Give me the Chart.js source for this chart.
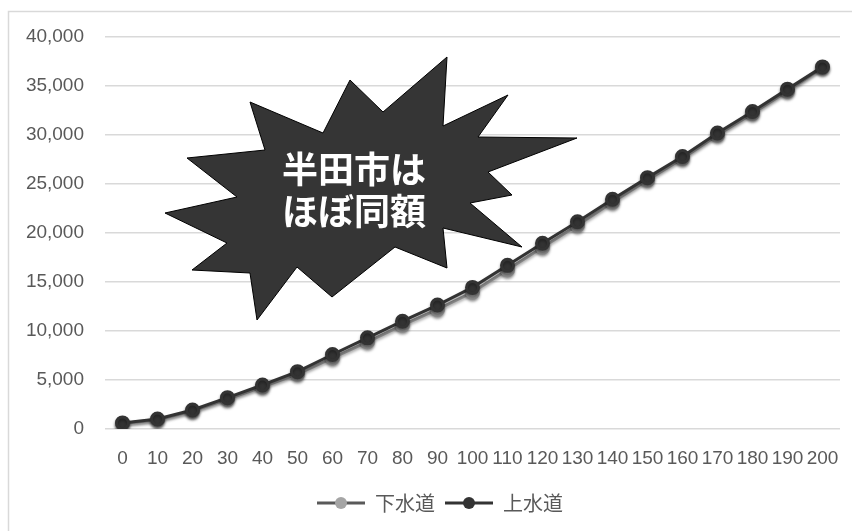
<!DOCTYPE html>
<html>
<head>
<meta charset="utf-8">
<script src="https://cdn.jsdelivr.net/npm/chart.js@4"></script>
<style>
    html, body { margin: 0; padding: 0; background: #fff; }
    #wrap { width: 852px; height: 531px; position: relative; }
</style>
</head>
<body>
<div id="wrap"><canvas id="mycanvas" width="852" height="531"></canvas></div>
<script>
// x categories
var categories = ["0", "10", "20", "30", "40", "50", "60", "70", "80", "90", "100",
    "110", "120", "130", "140", "150", "160", "170", "180", "190", "200"];

// sewer / water supply values
var gesuidou = [560, 950, 1850, 3050, 4300, 5600, 7250, 8900, 10600, 12200, 13950,
    16250, 18550, 20800, 23150, 25400, 27600, 30000, 32200, 34500, 36900];
var jousuidou = [620, 1020, 1940, 3200, 4490, 5850, 7600, 9300, 11000, 12650, 14450,
    16700, 18950, 21150, 23450, 25650, 27800, 30200, 32400, 34680, 36950];

var seriesNames = ["下水道", "上水道"];
var yTicks = [0, 5000, 10000, 15000, 20000, 25000, 30000, 35000, 40000];

var calloutLines = ["半田市は", "ほぼ同額"];
// burst outline, offsets from its centre
var burstCenter = [355, 190];
var burstShape = [
    [92, -133], [88, -64], [153, -95], [123, -53], [222, -52], [133, -18], [157, 5],
    [115, 13], [167, 57], [88, 38], [92, 78], [40, 57], [-23, 107], [-58, 77],
    [-98, 130], [-105, 83], [-163, 80], [-128, 53], [-190, 23], [-118, 7],
    [-168, -32], [-90, -40], [-105, -88], [-32, -57], [-5, -110], [28, -78]
];

var allCharts = [];

// legend icon: short line with a round marker
function LegendIcon(lineColor, dotColor)
{
    var c = document.createElement("canvas");
    c.width = 48;
    c.height = 14;
    var g = c.getContext("2d");
    g.strokeStyle = lineColor;
    g.lineWidth = 3;
    g.beginPath();
    g.moveTo(0, 7);
    g.lineTo(48, 7);
    g.stroke();
    g.fillStyle = dotColor;
    g.beginPath();
    g.arc(24, 7, 6, 0, Math.PI * 2);
    g.fill();
    return c;
}

var framePlugin = {
    id: "frame",
    beforeDraw: function (chart)
    {
        var ctx = chart.ctx;
        ctx.save();
        ctx.fillStyle = "#ffffff";
        ctx.fillRect(0, 0, chart.width, chart.height);
        ctx.strokeStyle = "#d9d9d9";
        ctx.lineWidth = 1.5;
        ctx.beginPath();
        ctx.moveTo(8.5, chart.height);
        ctx.lineTo(8.5, 11.5);
        ctx.lineTo(chart.width, 11.5);
        ctx.stroke();
        ctx.restore();
    },
    // centre the legend on the outer frame rather than the canvas
    afterLayout: function (chart)
    {
        chart.legend.left += 10;
        chart.legend.right += 10;
    }
};

var shadowPlugin = {
    id: "lineShadow",
    beforeDatasetDraw: function (chart)
    {
        var ctx = chart.ctx;
        ctx.save();
        ctx.shadowColor = "rgba(0,0,0,0.35)";
        ctx.shadowBlur = 3;
        ctx.shadowOffsetY = 2;
    },
    afterDatasetDraw: function (chart)
    {
        chart.ctx.restore();
    }
};

var burstPlugin = {
    id: "burst",
    afterDatasetsDraw: function (chart)
    {
        var ctx = chart.ctx;
        ctx.save();
        ctx.beginPath();
        for (var i = 0; i < burstShape.length; i++) {
            var px = burstCenter[0] + burstShape[i][0];
            var py = burstCenter[1] + burstShape[i][1];
            if (i == 0) ctx.moveTo(px, py); else ctx.lineTo(px, py);
        }
        ctx.closePath();
        ctx.fillStyle = "#353535";
        ctx.fill();
        ctx.strokeStyle = "#000000";
        ctx.lineWidth = 1;
        ctx.stroke();

        ctx.fillStyle = "#ffffff";
        ctx.font = "bold 36px 'Noto Sans CJK JP'";
        ctx.textAlign = "center";
        ctx.textBaseline = "middle";
        ctx.fillText(calloutLines[0], 354, 169);
        ctx.fillText(calloutLines[1], 354, 211);
        ctx.restore();
    }
};

function CreateGraph()
{
    var icons = [LegendIcon("#595959", "#a5a5a5"), LegendIcon("#333333", "#333333")];

    var chartdata = {
        labels: categories,
        datasets: [
            {
                label: seriesNames[0],
                data: gesuidou,
                borderColor: "#8c8c8c",
                backgroundColor: "#a5a5a5",
                pointBackgroundColor: "#a5a5a5",
                pointBorderColor: "#8c8c8c",
                borderWidth: 3,
                pointRadius: 6,
                order: 1
            },
            {
                label: seriesNames[1],
                data: jousuidou,
                borderColor: "#333333",
                backgroundColor: "#333333",
                pointBackgroundColor: "#333333",
                pointBorderColor: "#333333",
                borderWidth: 3,
                pointRadius: 6,
                order: 0
            }
        ]
    };

    var ctx = document.getElementById("mycanvas");
    var myGraph = new Chart(ctx, {
        type: "line",
        data: chartdata,
        plugins: [framePlugin, shadowPlugin, burstPlugin],
        options: {
            responsive: false,
            animation: false,
            layout: { padding: { top: 37, left: 20, right: 12, bottom: 8 } },
            scales: {
                x: {
                    offset: true,
                    grid: { display: false },
                    border: { display: false },
                    ticks: {
                        autoSkip: false,
                        maxRotation: 0,
                        padding: 10,
                        color: "#595959",
                        font: { family: "'Liberation Sans'", size: 19 }
                    },
                    afterFit: function (s) { s.height = 54; }
                },
                y: {
                    min: 0,
                    max: 40000,
                    border: { display: false },
                    grid: { color: "#d9d9d9", lineWidth: 1.5, drawTicks: false },
                    afterBuildTicks: function (s)
                    {
                        s.ticks = yTicks.map(function (v) { return { value: v }; });
                    },
                    ticks: {
                        padding: 21,
                        color: "#595959",
                        font: { family: "'Liberation Sans'", size: 19 },
                        callback: function (v) { return v.toLocaleString("en-US"); }
                    },
                    afterFit: function (s) { s.width = 85; }
                }
            },
            plugins: {
                tooltip: { enabled: false },
                legend: {
                    position: "bottom",
                    labels: {
                        usePointStyle: true,
                        pointStyleWidth: 48,
                        boxHeight: 14,
                        padding: 10,
                        color: "#595959",
                        font: { family: "'Noto Sans CJK JP'", size: 20 },
                        generateLabels: function (chart)
                        {
                            return chart.data.datasets.map(function (ds, i)
                            {
                                return {
                                    text: ds.label,
                                    pointStyle: icons[i],
                                    fillStyle: ds.backgroundColor,
                                    strokeStyle: ds.borderColor,
                                    lineWidth: 0,
                                    fontColor: "#595959",
                                    datasetIndex: i,
                                    hidden: false
                                };
                            });
                        }
                    }
                }
            }
        }
    });
    allCharts.push(myGraph);
}

CreateGraph();
</script>
</body>
</html>
